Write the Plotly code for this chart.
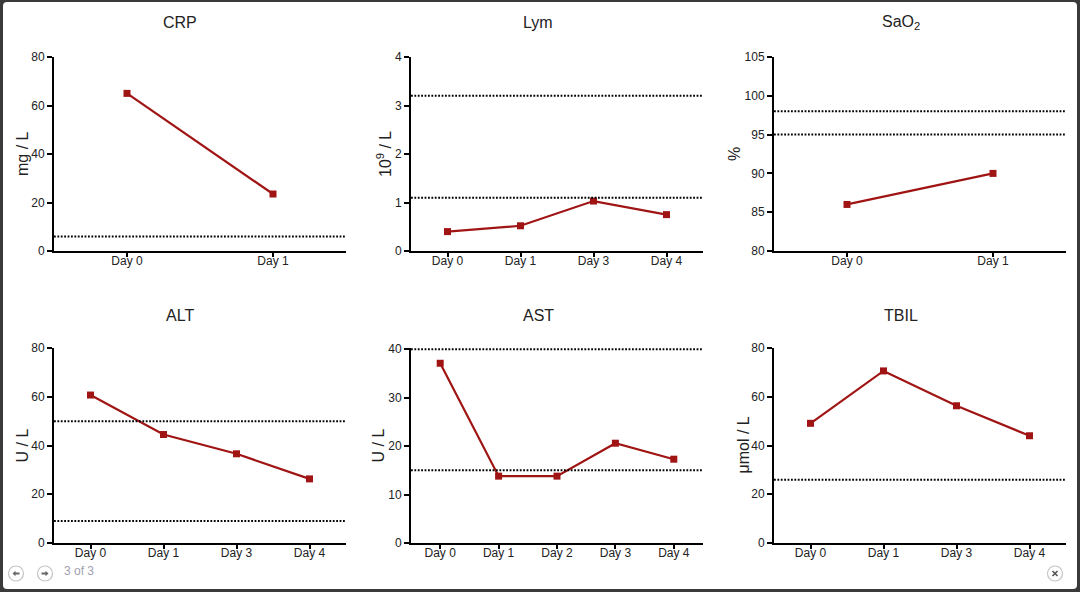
import plotly.graph_objects as go

# ---------------- data ----------------
crp_days = ["Day 0", "Day 1"]
crp_vals = [65, 23.5]
crp_refs = [6]

lym_days = ["Day 0", "Day 1", "Day 3", "Day 4"]
lym_vals = [0.4, 0.52, 1.03, 0.75]
lym_refs = [1.1, 3.2]

sao2_days = ["Day 0", "Day 1"]
sao2_vals = [86, 90]
sao2_refs = [95, 98]

alt_days = ["Day 0", "Day 1", "Day 3", "Day 4"]
alt_vals = [60.7, 44.5, 36.6, 26.3]
alt_refs = [9, 50]

ast_days = ["Day 0", "Day 1", "Day 2", "Day 3", "Day 4"]
ast_vals = [37.1, 13.8, 13.8, 20.6, 17.3]
ast_refs = [15, 40]

tbil_days = ["Day 0", "Day 1", "Day 3", "Day 4"]
tbil_vals = [49.1, 70.6, 56.3, 44.0]
tbil_refs = [26]

titles = ["CRP", "Lym", "SaO<sub>2</sub>", "ALT", "AST", "TBIL"]
ylabels = ["mg / L", "10<sup>9</sup> / L", "%", "U / L", "U / L", "μmol / L"]
yranges = [(0, 80), (0, 4), (80, 105), (0, 80), (0, 40.25), (0, 80)]
ydticks = [20, 1, 5, 20, 10, 20]

panels = [
    (crp_days, crp_vals, crp_refs),
    (lym_days, lym_vals, lym_refs),
    (sao2_days, sao2_vals, sao2_refs),
    (alt_days, alt_vals, alt_refs),
    (ast_days, ast_vals, ast_refs),
    (tbil_days, tbil_vals, tbil_refs),
]

# ---------------- layout geometry ----------------
W, H = 1080, 592
col_px = [(54, 346), (411, 703), (774, 1066)]
row_px = [(57, 251), (348, 543)]
title_x_px = [180, 538, 901]
title_y_px = [22, 315]
ylab_x_px = [[23, 384, 735], [22, 378, 743]]

LINE = "#a01414"
TXT = "#222222"
FONT = "Liberation Sans, Arial, sans-serif"


def px(xv, yv):
    return xv / W, 1 - yv / H


fig = go.Figure()
layout = {}
shapes = []
annotations = []

for i, (days, vals, refs) in enumerate(panels):
    r, c = divmod(i, 3)
    n = i + 1
    xa = "x" if n == 1 else f"x{n}"
    ya = "y" if n == 1 else f"y{n}"
    fig.add_trace(go.Scatter(
        x=list(range(len(days))), y=vals, xaxis=xa, yaxis=ya,
        mode="lines+markers",
        line=dict(color=LINE, width=2.2),
        marker=dict(symbol="square", size=7, color=LINE),
        showlegend=False, cliponaxis=False, hoverinfo="skip",
    ))
    x0, x1 = col_px[c]
    ytop, ybot = row_px[r]
    layout[f"xaxis{'' if n == 1 else n}"] = dict(
        domain=[x0 / W, x1 / W], anchor=ya, automargin=False,
        range=[-0.5, len(days) - 0.5],
        tickmode="array", tickvals=list(range(len(days))), ticktext=days,
        showline=True, linecolor="black", linewidth=2,
        ticks="outside", ticklen=4, tickwidth=2, tickcolor="black",
        ticklabelstandoff=-6,
        showgrid=False, zeroline=False, fixedrange=True,
        tickfont=dict(size=12, color=TXT, family=FONT),
    )
    lo, hi = yranges[i]
    layout[f"yaxis{'' if n == 1 else n}"] = dict(
        domain=[1 - ybot / H, 1 - ytop / H], anchor=xa, automargin=False,
        range=[lo, hi], tick0=lo, dtick=ydticks[i],
        showline=True, linecolor="black", linewidth=2,
        ticks="outside", ticklen=5, tickwidth=2, tickcolor="black",
        showgrid=False, zeroline=False, fixedrange=True,
        tickfont=dict(size=12, color=TXT, family=FONT),
    )
    for ref in refs:
        shapes.append(dict(
            type="line", xref=f"{xa} domain", yref=ya,
            x0=0, x1=1, y0=ref, y1=ref,
            line=dict(color="black", width=2, dash="1.8px,1.6px"), layer="above",
        ))
    tx, ty = px(title_x_px[c], title_y_px[r])
    annotations.append(dict(
        text=titles[i], x=tx, y=ty,
        xref="paper", yref="paper", showarrow=False,
        xanchor="center", yanchor="middle",
        font=dict(size=16, color=TXT, family=FONT),
    ))
    lx, ly = px(ylab_x_px[r][c], (ytop + ybot) / 2)
    annotations.append(dict(
        text=ylabels[i], x=lx, y=ly,
        xref="paper", yref="paper", showarrow=False, textangle=-90,
        xanchor="center", yanchor="middle",
        font=dict(size=16, color=TXT, family=FONT),
    ))


# frame: dark border with rounded white panel
def rounded_rect(x0, y0, x1, y1, rx, ry):
    return (f"M {x0+rx},{y0} L {x1-rx},{y0} Q {x1},{y0} {x1},{y0+ry} "
            f"L {x1},{y1-ry} Q {x1},{y1} {x1-rx},{y1} L {x0+rx},{y1} "
            f"Q {x0},{y1} {x0},{y1-ry} L {x0},{y0+ry} Q {x0},{y0} {x0+rx},{y0} Z")


fx0, fy0 = px(3, 589)
fx1, fy1 = px(1077, 2)
shapes.insert(0, dict(type="path", xref="paper", yref="paper",
                      path=rounded_rect(fx0, fy0, fx1, fy1, 4 / W, 4 / H),
                      fillcolor="white", line=dict(width=0), layer="below"))

# navigation buttons (bottom left) and close button (bottom right)
BTN_Y = 573.5
for cx in (16, 45, 1055):
    a, b = px(cx - 7.5, BTN_Y + 7.5)
    c2, d = px(cx + 7.5, BTN_Y - 7.5)
    shapes.append(dict(type="circle", xref="paper", yref="paper",
                       x0=a, y0=b, x1=c2, y1=d,
                       line=dict(color="#c4c4c4", width=1.2), fillcolor="white"))


def arrow_path(cx, cy, direction):
    s = direction
    pts = [(cx - 3.5 * s, cy), (cx - 0.5 * s, cy - 2.8), (cx - 0.5 * s, cy - 1),
           (cx + 3.5 * s, cy - 1), (cx + 3.5 * s, cy + 1), (cx - 0.5 * s, cy + 1),
           (cx - 0.5 * s, cy + 2.8)]
    p = []
    for k, (xx, yy) in enumerate(pts):
        a, b = px(xx, yy)
        p.append(("M " if k == 0 else "L ") + f"{a},{b}")
    return " ".join(p) + " Z"


shapes.append(dict(type="path", xref="paper", yref="paper", path=arrow_path(16, BTN_Y, 1),
                   fillcolor="#666", line=dict(width=0)))
shapes.append(dict(type="path", xref="paper", yref="paper", path=arrow_path(45, BTN_Y, -1),
                   fillcolor="#666", line=dict(width=0)))
for (xa_, ya_, xb_, yb_) in ((1052.5, BTN_Y - 2.5, 1057.5, BTN_Y + 2.5),
                             (1052.5, BTN_Y + 2.5, 1057.5, BTN_Y - 2.5)):
    a, b = px(xa_, ya_)
    c2, d = px(xb_, yb_)
    shapes.append(dict(type="line", xref="paper", yref="paper", x0=a, y0=b, x1=c2, y1=d,
                       line=dict(color="#555", width=1.6)))

tx, ty = px(62, 571)
annotations.append(dict(text="3 of 3", x=tx, y=ty, xref="paper", yref="paper",
                        xanchor="left", yanchor="middle", showarrow=False,
                        font=dict(size=12, color="#a0a0b0", family=FONT)))

fig.update_layout(
    width=W, height=H, autosize=False,
    margin=dict(l=0, r=0, t=0, b=0, pad=0, autoexpand=False),
    paper_bgcolor="#3a3a3a", plot_bgcolor="rgba(0,0,0,0)",
    shapes=shapes, annotations=annotations,
    font=dict(family=FONT, color=TXT),
    hovermode=False,
    **layout,
)

fig.write_html("out.html", config={"displayModeBar": False},
               post_script="document.body.style.margin='0';document.body.style.overflow='hidden';")
